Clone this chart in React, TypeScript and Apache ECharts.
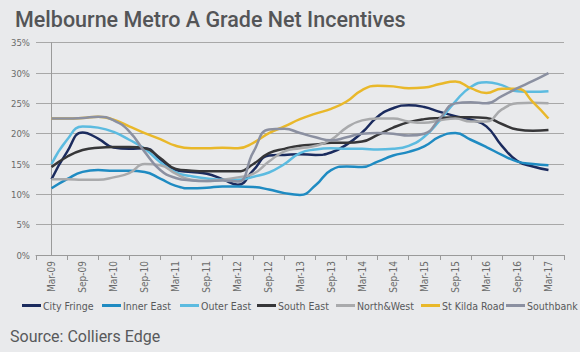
import React, { useEffect, useRef } from "react";
import * as echarts from "echarts";

const periodLabels = [
  "Mar-09", "Sep-09", "Mar-10", "Sep-10", "Mar-11", "Sep-11", "Mar-12", "Sep-12",
  "Mar-13", "Sep-13", "Mar-14", "Sep-14", "Mar-15", "Sep-15", "Mar-16", "Sep-16", "Mar-17",
];

const quarters = [
  "Mar-09", "Jun-09", "Sep-09", "Dec-09", "Mar-10", "Jun-10", "Sep-10", "Dec-10",
  "Mar-11", "Jun-11", "Sep-11", "Dec-11", "Mar-12", "Jun-12", "Sep-12", "Dec-12",
  "Mar-13", "Jun-13", "Sep-13", "Dec-13", "Mar-14", "Jun-14", "Sep-14", "Dec-14",
  "Mar-15", "Jun-15", "Sep-15", "Dec-15", "Mar-16", "Jun-16", "Sep-16", "Dec-16", "Mar-17",
];

const cityFringe = [12.5, 17.0, 20.2, 19.2, 17.7, 17.5, 17.6, 15.8, 14.0, 13.7, 13.4, 12.5, 11.6, 14.0, 16.4, 16.5, 16.6, 16.5, 16.9, 18.2, 20.2, 22.8, 24.2, 24.7, 24.4, 23.6, 22.9, 22.3, 21.2, 18.0, 15.5, 14.6, 14.0];
const innerEast = [11.0, 12.5, 13.7, 14.0, 13.9, 13.9, 13.7, 12.6, 11.4, 11.0, 11.1, 11.3, 11.3, 11.2, 10.8, 10.2, 9.9, 11.5, 14.0, 14.6, 14.5, 15.4, 16.4, 17.0, 17.9, 19.5, 20.1, 19.0, 17.8, 16.5, 15.4, 15.0, 14.8];
const outerEast = [15.0, 19.0, 21.2, 21.0, 20.3, 19.0, 17.5, 15.3, 13.6, 13.0, 12.6, 12.4, 12.4, 12.9, 13.6, 15.0, 16.8, 17.4, 17.6, 17.5, 17.5, 17.4, 17.5, 18.0, 19.5, 22.2, 25.3, 27.7, 28.5, 28.0, 27.0, 26.9, 27.0];
const southEast = [14.5, 16.2, 17.3, 17.7, 17.8, 17.8, 17.6, 16.0, 14.2, 13.9, 13.8, 13.8, 13.8, 15.0, 16.8, 17.5, 18.0, 18.2, 18.5, 18.5, 18.7, 19.8, 21.0, 21.9, 22.4, 22.6, 22.7, 22.7, 22.6, 21.6, 20.7, 20.5, 20.6];
const northWest = [12.5, 12.5, 12.4, 12.4, 12.8, 13.5, 15.0, 14.8, 13.4, 12.4, 12.2, 12.4, 12.8, 13.4, 15.4, 17.1, 17.6, 18.0, 19.0, 21.0, 22.2, 22.5, 22.5, 22.0, 21.8, 22.2, 22.5, 22.0, 22.0, 24.0, 25.0, 25.1, 25.0];
const stKildaRoad = [22.5, 22.5, 22.6, 22.8, 22.3, 21.2, 20.1, 19.1, 18.0, 17.6, 17.6, 17.7, 17.6, 18.5, 20.1, 21.2, 22.4, 23.3, 24.1, 25.3, 27.2, 27.9, 27.8, 27.5, 27.6, 28.2, 28.6, 27.5, 26.7, 27.4, 27.4, 25.2, 22.5];
const southbank = [22.5, 22.5, 22.6, 22.8, 22.2, 20.4, 17.0, 14.0, 12.7, 12.3, 12.2, 12.3, 12.1, 17.0, 20.7, 20.8, 20.1, 19.4, 18.9, 19.4, 20.0, 20.1, 20.0, 19.7, 20.0, 22.5, 25.0, 25.2, 25.0, 26.2, 27.5, 28.7, 30.0];

const yTicks = [0, 5, 10, 15, 20, 25, 30, 35];

const seriesDefs = [
  { name: "City Fringe", data: cityFringe, color: "#1b2b5e" },
  { name: "Inner East", data: innerEast, color: "#1f8bc2" },
  { name: "Outer East", data: outerEast, color: "#5cbbe0" },
  { name: "South East", data: southEast, color: "#363638" },
  { name: "North&West", data: northWest, color: "#a9aaac" },
  { name: "St Kilda Road", data: stKildaRoad, color: "#e9b82a" },
  { name: "Southbank", data: southbank, color: "#8b90a1" },
];

const legendLefts = [17, 97, 175, 252, 331, 416, 501];

const narrow = "'Liberation Sans Narrow', 'DejaVu Sans Condensed', 'Roboto', sans-serif";

export default function App() {
  const ref = useRef<HTMLDivElement>(null);
  useEffect(() => {
    if (!ref.current) return;
    const chart = echarts.init(ref.current, null, { renderer: "svg" });
    chart.setOption({
      animation: false,
      backgroundColor: "#e9eaec",
      title: {
        text: "Melbourne Metro A Grade Net Incentives",
        left: 10,
        top: 3,
        textStyle: { fontSize: 21.5, fontWeight: 500, color: "#545557", fontFamily: "Roboto" },
      },
      graphic: [
        {
          type: "text",
          left: 10,
          top: 328,
          style: { text: "Source: Colliers Edge", fontSize: 16, fill: "#58595b", fontFamily: "Roboto" },
        },
      ],
      legend: seriesDefs.map((s, i) => ({
        left: legendLefts[i],
        top: 295,
        icon: "rect",
        itemWidth: 19,
        itemHeight: 3,
        itemGap: 0,
        textStyle: { fontSize: 10.5, color: "#58595b", fontFamily: narrow, padding: [0, 0, 0, -3] },
        data: [s.name],
      })),
      grid: { left: 36, right: 16, top: 42.7, bottom: 97, containLabel: false },
      xAxis: [
        {
          type: "category",
          data: periodLabels,
          boundaryGap: true,
          axisLine: { show: true, lineStyle: { color: "#9a9a9a" } },
          axisTick: { show: true, interval: 0, length: 5, lineStyle: { color: "#9a9a9a" } },
          axisLabel: { interval: 0, rotate: 90, fontSize: 10, color: "#6a6a6a", margin: 6, fontFamily: narrow },
        },
        { type: "value", show: false, min: -0.5, max: 16.5 },
      ],
      yAxis: {
        type: "value",
        min: yTicks[0],
        max: yTicks[yTicks.length - 1],
        interval: 5,
        axisLine: { show: true, lineStyle: { color: "#9a9a9a" } },
        axisTick: { show: false },
        axisLabel: { formatter: "{value}%", fontSize: 9.5, color: "#6a6a6a", margin: 6, fontFamily: narrow },
        splitLine: { lineStyle: { color: "#a8a8a8", width: 1 } },
      },
      series: seriesDefs.map((s) => ({
        name: s.name,
        type: "line",
        xAxisIndex: 1,
        smooth: 0.5,
        showSymbol: false,
        color: s.color,
        lineStyle: { width: 2.5, color: s.color },
        data: quarters.map((_, i) => [i / 2, s.data[i]]),
      })),
    });
    return () => chart.dispose();
  }, []);
  return (
    <div
      ref={ref}
      style={{ position: "absolute", left: 0, top: 0, width: 580, height: 352 }}
    />
  );
}
